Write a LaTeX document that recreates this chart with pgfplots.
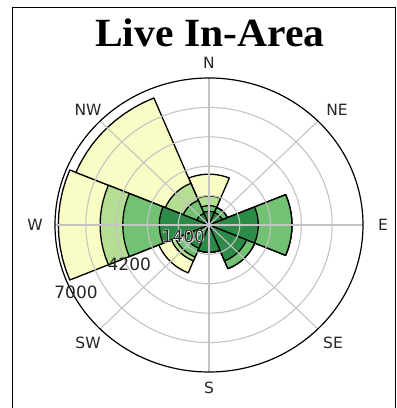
\documentclass[border=0pt]{standalone}
\usepackage{pgfplots}
\pgfplotsset{compat=1.18}
\usepackage{pgfplotstable}
\usepackage{graphicx}
\usepackage{fontspec}
\setmainfont{DejaVu Sans}
\newfontfamily\titlefont{Liberation Serif}
\newfontfamily\halofont[FakeBold=6]{DejaVu Sans}
\definecolor{bin1}{HTML}{2C8C47}
\definecolor{bin2}{HTML}{72C274}
\definecolor{bin3}{HTML}{B4DE92}
\definecolor{bin4}{HTML}{FAFCC6}
\definecolor{gridgray}{HTML}{C4C4C4}
\definecolor{labgray}{HTML}{262626}

% per-bin values (stacked from the centre outwards), compass direction in degrees
\pgfplotstableread{
dir b1 b2 b3 b4
0 650 270 460 1040
45 650 250 0 0
90 2240 1530 0 0
135 1850 400 0 0
180 1300 0 0 0
225 1200 450 200 620
270 2260 1660 1030 1900
315 600 670 880 4400
}\windtable

\begin{document}
\begin{tikzpicture}
\useasboundingbox (0,0) rectangle (397bp,408bp);
\fill[white] (0,0) rectangle (397bp,408bp);
\draw[line width=1.2bp] (12.5bp,0) -- (12.5bp,400.5bp) -- (395.8bp,400.5bp) -- (395.8bp,0);
\node[anchor=base, inner sep=0] at (209.7bp,361.3bp)
  {\scalebox{1.04}[1]{\titlefont\bfseries\fontsize{40bp}{40bp}\selectfont Live In-Area}};
\begin{axis}[at={(209bp,183bp)}, anchor=origin,
  x=0.022bp, y=0.021bp,
  xmin=-7000, xmax=7000, ymin=-7000, ymax=7000,
  hide axis, clip=false]
\pgfplotstablegetrowsof{\windtable}
\pgfmathtruncatemacro\lastrow{\pgfplotsretval-1}
\foreach \k in {4,3,2,1}{%
  \foreach \row in {0,...,\lastrow}{%
    \pgfplotstablegetelem{\row}{dir}\of\windtable\let\dir\pgfplotsretval
    \pgfplotstablegetelem{\row}{b1}\of\windtable\let\va\pgfplotsretval
    \pgfplotstablegetelem{\row}{b2}\of\windtable\let\vb\pgfplotsretval
    \pgfplotstablegetelem{\row}{b3}\of\windtable\let\vc\pgfplotsretval
    \pgfplotstablegetelem{\row}{b4}\of\windtable\let\vd\pgfplotsretval
    \ifcase\k\or
      \pgfmathsetmacro\rad{\va}\or
      \pgfmathsetmacro\rad{\va+\vb}\or
      \pgfmathsetmacro\rad{\va+\vb+\vc}\or
      \pgfmathsetmacro\rad{\va+\vb+\vc+\vd}\fi
    \gdef\coords{(0,0)}%
    \foreach \i in {0,...,10}{%
      \pgfmathsetmacro\ang{90-\dir-22.5+4.5*\i}%
      \xdef\coords{\coords (\ang,\rad)}%
    }%
    \edef\cmd{\noexpand\addplot[data cs=polar, fill=bin\k, draw=black,
      line width=1.3bp, line join=round] coordinates {\coords (0,0)};}%
    \cmd
  }%
}
% grid on top
\pgfplotsinvokeforeach{1400,2800,4200,5600}{
  \draw[gridgray, line width=1.1bp] (axis cs:0,0) ellipse [x radius={#1*0.022bp}, y radius={#1*0.021bp}];
}
\pgfplotsinvokeforeach{0,45,90,135,180,225,270,315}{
  \draw[gridgray, line width=1.1bp] (axis cs:0,0) -- (axis cs:{7000*sin(#1)},{7000*cos(#1)});
}
\draw[black, line width=1.2bp] (axis cs:0,0) ellipse [x radius=154bp, y radius=147bp];
% direction labels
\begin{scope}[every node/.style={text=labgray, font=\fontsize{15.5bp}{15.5bp}\selectfont, inner sep=0}]
\node at (axis cs:0,7714) {N};
\node at (axis cs:5818,5476) {NE};
\node at (axis cs:7909,0) {E};
\node at (axis cs:5636,-5619) {SE};
\node at (axis cs:0,-7762) {S};
\node at (axis cs:-5500,-5619) {SW};
\node at (axis cs:-7909,0) {W};
\node at (axis cs:-5500,5476) {NW};
\end{scope}
% radial labels (1400 with a white halo)
\node[text=white, inner sep=0, font=\halofont\fontsize{17bp}{17bp}\selectfont] at (axis cs:-1168,-524) {1400};
\begin{scope}[every node/.style={text=labgray, inner sep=0, font=\fontsize{17bp}{17bp}\selectfont}]
\node at (axis cs:-1168,-524) {1400};
\node at (axis cs:-3623,-1871) {4200};
\node at (axis cs:-6045,-3205) {7000};
\end{scope}
\end{axis}
\end{tikzpicture}
\end{document}
